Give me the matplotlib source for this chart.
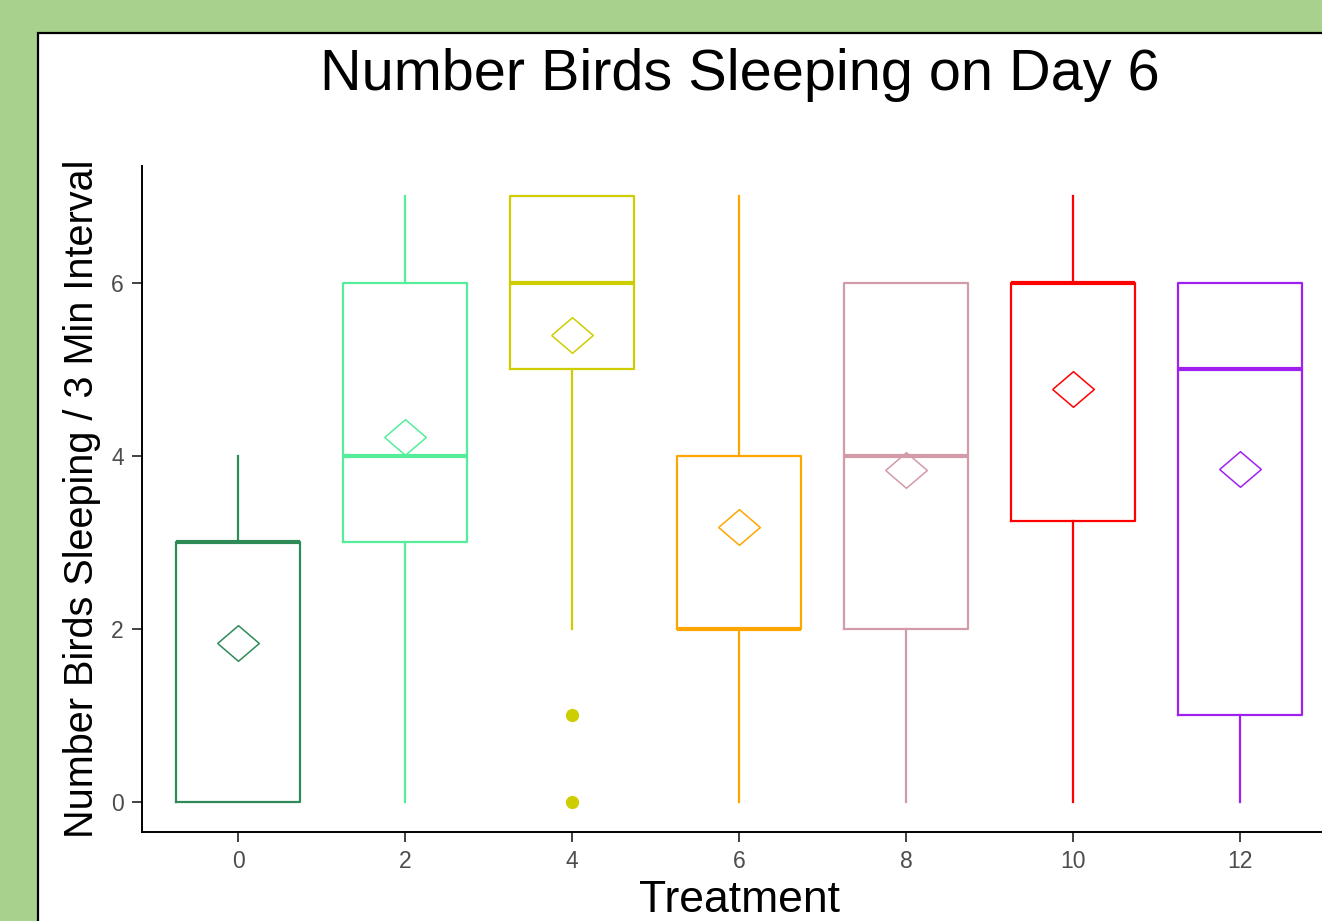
import matplotlib
matplotlib.use("Agg")
import matplotlib.pyplot as plt
from matplotlib.patches import Rectangle
import numpy as np

plt.rcParams['font.family'] = ['Liberation Sans', 'DejaVu Sans']

# ---- data ----
treatments = [0, 2, 4, 6, 8, 10, 12]
q1 = [0, 3, 5, 2, 2, 3.25, 1]
medians = [3, 4, 6, 2, 4, 6, 5]
q3 = [3, 6, 7, 4, 6, 6, 6]
whisker_low = [0, 0, 2, 0, 0, 0, 0]
whisker_high = [4, 7, 7, 7, 6, 7, 6]
outliers = [[], [], [1, 0], [], [], [], []]
means = [1.83, 4.22, 5.40, 3.18, 3.84, 4.77, 3.85]
colors = ['#2E8B57', '#54EE9A', '#CDCD00', '#FFA500', '#D39AA7', '#FF0000', '#A020F0']
xticks = [0, 2, 4, 6, 8, 10, 12]
yticks = [0, 2, 4, 6]

W, H = 1322, 921
fig = plt.figure(figsize=(W / 100, H / 100), dpi=100)
fig.patch.set_facecolor('#A9D18E')

# white panel with black border
panel = Rectangle((38 / W, -0.1), 1.2, (1 - 33 / H) + 0.1, transform=fig.transFigure,
                  facecolor='white', edgecolor='black', linewidth=1.6, zorder=-5)
fig.patches.append(panel)

ax = fig.add_axes([142 / W, (H - 832) / H, (1336 - 142) / W, 666 / H])
ax.set_facecolor('none')
ax.set_zorder(2)

diamond = [(-1.17, 0), (0, 1), (1.17, 0), (0, -1), (-1.17, 0)]

for i, t in enumerate(treatments):
    c = colors[i]
    stats = [dict(q1=q1[i], med=medians[i], q3=q3[i], whislo=whisker_low[i],
                  whishi=whisker_high[i], fliers=outliers[i], mean=means[i])]
    ax.bxp(stats, positions=[t], widths=1.48, showcaps=False, showmeans=True,
           boxprops=dict(color=c, linewidth=1.6),
           whiskerprops=dict(color=c, linewidth=1.6),
           medianprops=dict(color=c, linewidth=3.0, solid_capstyle='butt'),
           meanprops=dict(marker=diamond, markerfacecolor='none', markeredgecolor=c,
                          markersize=30, markeredgewidth=1.1, linestyle='none'),
           flierprops=dict(marker='o', markerfacecolor=c, markeredgecolor=c,
                           markersize=8.5, linestyle='none'),
           manage_ticks=False)

ax.set_xlim(-1.15, 13.15)
ax.set_ylim(-0.35, 7.35)
ax.set_xticks(xticks)
ax.set_xticklabels([str(v) for v in xticks])
ax.set_yticks(yticks)
ax.set_yticklabels([str(v) for v in yticks])

for s in ['top', 'right']:
    ax.spines[s].set_visible(False)
for s in ['left', 'bottom']:
    ax.spines[s].set_linewidth(1.4)
    ax.spines[s].set_color('black')

ax.tick_params(axis='both', length=7, width=1.3, color='#333333',
               labelcolor='#4D4D4D', labelsize=16.5, pad=6)

fig.text(740 / W, 1 - 90 / H, 'Number Birds Sleeping on Day 6', ha='center', va='baseline',
         fontsize=41.5, color='black')
fig.text(740 / W, 1 - 912 / H, 'Treatment', ha='center', va='baseline',
         fontsize=32, color='black')
fig.text(82 / W, 1 - 499 / H, 'Number Birds Sleeping / 3 Min Interval', ha='center', va='center',
         rotation=90, fontsize=28.5, color='black')

fig.savefig('out.png', dpi=100, facecolor=fig.get_facecolor())
